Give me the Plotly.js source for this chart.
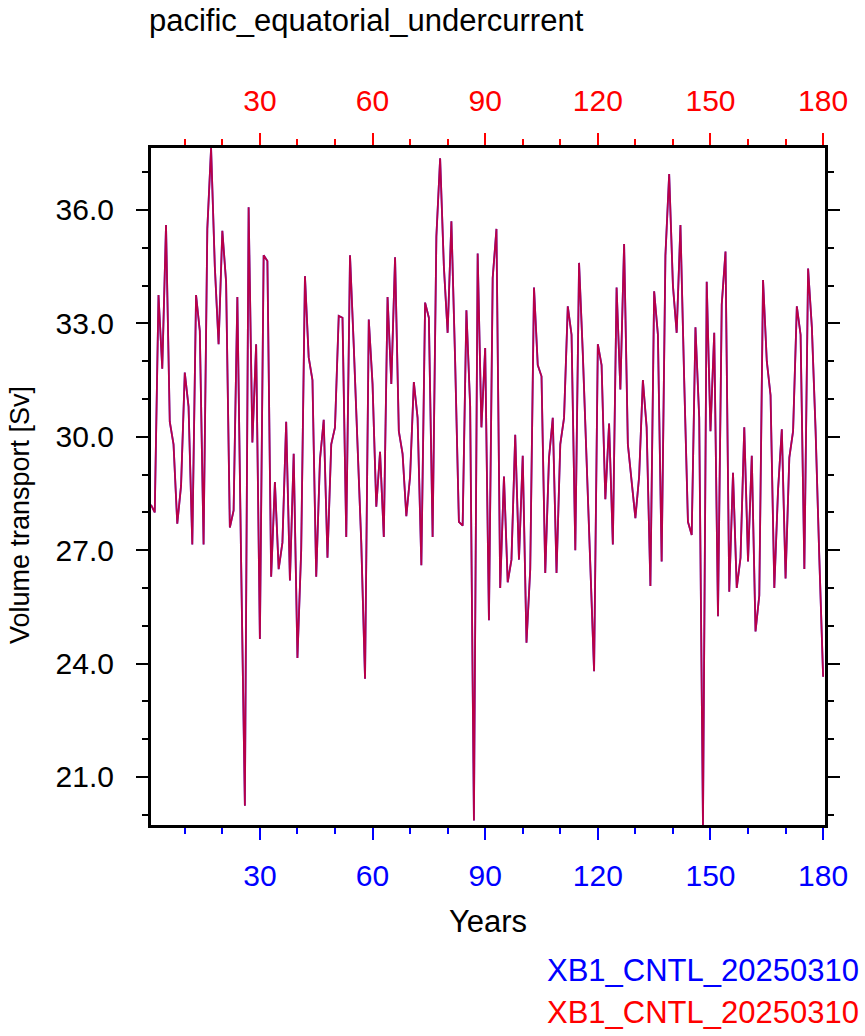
<!DOCTYPE html>
<html>
<head>
<meta charset="utf-8">
<script src="https://cdn.plot.ly/plotly-3.0.1.min.js"></script>
<style>
  html, body { margin: 0; padding: 0; background: #ffffff; }
  #chart { width: 865px; height: 1036px; }
</style>
</head>
<body>
<div id="chart"></div>
<script>
// ---- data ----
const chartTitle = "pacific_equatorial_undercurrent";
const xTitle = "Years";
const yTitle = "Volume transport [Sv]";
const seriesNames = ["XB1_CNTL_20250310", "XB1_CNTL_20250310"];
const seriesColors = ["#0000ff", "#ff0000"];

// transport values, years 1..180 (blue run)
const transportBlue = [
  28.2, 28.0, 33.75, 31.8, 35.6, 30.4, 29.8, 27.7, 28.7, 31.7,
  30.8, 27.15, 33.75, 32.8, 27.15, 35.5, 37.64, 34.5, 32.45, 35.45,
  34.1, 27.6, 28.05, 33.7, 26.7, 20.24, 36.07, 29.85, 32.45, 24.65,
  34.8, 34.65, 26.3, 28.8, 26.5, 27.2, 30.4, 26.2, 29.55, 24.15,
  27.0, 34.25, 32.1, 31.5, 26.3, 29.4, 30.45, 26.8, 29.8, 30.25,
  33.2, 33.15, 27.35, 34.8, 32.4, 30.0, 27.2, 23.6, 33.1, 31.4,
  28.15, 29.6, 27.35, 33.7, 31.4, 34.75, 30.15, 29.55, 27.9, 28.95,
  31.45, 30.5, 26.6, 33.55, 33.15, 27.35, 35.3, 37.37, 34.5, 32.75,
  35.7, 32.0, 27.75, 27.65, 33.35, 30.8, 19.85, 34.85, 30.25, 32.35,
  25.15, 34.2, 35.5, 26.0, 28.95, 26.15, 26.75, 30.05, 26.75, 29.5,
  24.55, 26.5, 33.95, 31.9, 31.6, 26.4, 29.45, 30.5, 26.4, 29.8,
  30.5, 33.45, 32.7, 27.0, 34.6, 32.2, 29.45, 27.0, 23.8, 32.45,
  31.9, 28.35, 30.35, 27.15, 33.95, 31.25, 35.1, 29.8, 28.85, 27.85,
  28.95, 31.5, 30.25, 26.05, 33.85, 32.7, 26.7, 34.8, 36.95, 34.0,
  32.75, 35.6, 31.5, 27.75, 27.4, 32.9, 30.5, 19.73, 34.1, 30.15,
  32.75, 25.25, 33.5, 34.9, 25.9, 29.05, 26.0, 26.8, 30.25, 26.7,
  29.5, 24.85, 25.8, 34.15, 32.0, 31.1, 26.0, 28.6, 30.2, 26.25,
  29.45, 30.15, 33.45, 32.7, 26.5, 34.45, 32.9, 30.15, 26.75, 23.65
];
// red run (drawn on top; overlaps the blue run)
const transportRed = [
  28.2, 28.0, 33.75, 31.8, 35.6, 30.4, 29.8, 27.7, 28.7, 31.7,
  30.8, 27.15, 33.75, 32.8, 27.15, 35.5, 37.64, 34.5, 32.45, 35.45,
  34.1, 27.6, 28.05, 33.7, 26.7, 20.24, 36.07, 29.85, 32.45, 24.65,
  34.8, 34.65, 26.3, 28.8, 26.5, 27.2, 30.4, 26.2, 29.55, 24.15,
  27.0, 34.25, 32.1, 31.5, 26.3, 29.4, 30.45, 26.8, 29.8, 30.25,
  33.2, 33.15, 27.35, 34.8, 32.4, 30.0, 27.2, 23.6, 33.1, 31.4,
  28.15, 29.6, 27.35, 33.7, 31.4, 34.75, 30.15, 29.55, 27.9, 28.95,
  31.45, 30.5, 26.6, 33.55, 33.15, 27.35, 35.3, 37.37, 34.5, 32.75,
  35.7, 32.0, 27.75, 27.65, 33.35, 30.8, 19.85, 34.85, 30.25, 32.35,
  25.15, 34.2, 35.5, 26.0, 28.95, 26.15, 26.75, 30.05, 26.75, 29.5,
  24.55, 26.5, 33.95, 31.9, 31.6, 26.4, 29.45, 30.5, 26.4, 29.8,
  30.5, 33.45, 32.7, 27.0, 34.6, 32.2, 29.45, 27.0, 23.8, 32.45,
  31.9, 28.35, 30.35, 27.15, 33.95, 31.25, 35.1, 29.8, 28.85, 27.85,
  28.95, 31.5, 30.25, 26.05, 33.85, 32.7, 26.7, 34.8, 36.95, 34.0,
  32.75, 35.6, 31.5, 27.75, 27.4, 32.9, 30.5, 19.73, 34.1, 30.15,
  32.75, 25.25, 33.5, 34.9, 25.9, 29.05, 26.0, 26.8, 30.25, 26.7,
  29.5, 24.85, 25.8, 34.15, 32.0, 31.1, 26.0, 28.6, 30.2, 26.25,
  29.45, 30.15, 33.45, 32.7, 26.5, 34.45, 32.9, 30.15, 26.75, 23.65
];
const years = transportBlue.map((_, i) => i + 1);

const xTickVals = [30, 60, 90, 120, 150, 180];
const yTickVals = [21, 24, 27, 30, 33, 36];

// ---- layout geometry ----
const W = 865, H = 1036;
const plotL = 151, plotR = 825, plotT = 148, plotB = 825;
const FONT = "Liberation Sans, Arial, Helvetica, sans-serif";
const px2paperX = px => (px - plotL) / (plotR - plotL);
const px2paperY = py => (plotB - py) / (plotB - plotT);

const allVals = transportBlue.concat(transportRed);
const yMin = Math.min(...allVals), yMax = Math.max(...allVals);

const traces = [
  { x: years, y: transportBlue, type: "scatter", mode: "lines", name: seriesNames[0],
    line: { color: seriesColors[0], width: 1.8 }, xaxis: "x", yaxis: "y", showlegend: false },
  { x: years, y: transportRed, type: "scatter", mode: "lines", name: seriesNames[1],
    line: { color: seriesColors[1], width: 1.8 }, opacity: 0.72, xaxis: "x", yaxis: "y", showlegend: false },
  // invisible trace to activate top axis
  { x: [years[0]], y: [transportRed[0]], type: "scatter", mode: "lines", xaxis: "x2", yaxis: "y",
    line: { color: "rgba(0,0,0,0)" }, showlegend: false, hoverinfo: "skip" }
];

const layout = {
  width: W, height: H,
  paper_bgcolor: "#ffffff", plot_bgcolor: "#ffffff",
  margin: { l: plotL, r: W - plotR, t: plotT, b: H - plotB, pad: 0 },
  font: { family: FONT, size: 30, color: "#000000" },
  showlegend: false,
  title: { text: chartTitle, font: { family: FONT, size: 31, color: "#000000" },
           x: 149 / W, xanchor: "left", xref: "container",
           y: 1 - 20 / H, yanchor: "middle", yref: "container" },
  xaxis: {
    range: [1, 180.5], showgrid: false, zeroline: false,
    showline: true, linecolor: "#000000", linewidth: 3, mirror: false,
    tickmode: "array", tickvals: xTickVals, ticktext: xTickVals.map(String),
    ticks: "outside", ticklen: 12, tickwidth: 2, tickcolor: "#0000ff",
    tickfont: { family: FONT, size: 30, color: "#0000ff" },
    ticklabelstandoff: 10,
    minor: { tickmode: "linear", tick0: 0, dtick: 10, ticks: "outside", ticklen: 6, tickwidth: 2, tickcolor: "#0000ff" },
    title: { text: xTitle, font: { family: FONT, size: 31, color: "#000000" }, standoff: 20 },
    automargin: false
  },
  xaxis2: {
    overlaying: "x", side: "top", anchor: "y", matches: "x",
    range: [1, 180.5], showgrid: false, zeroline: false,
    showline: true, linecolor: "#000000", linewidth: 3,
    tickmode: "array", tickvals: xTickVals, ticktext: xTickVals.map(String),
    ticks: "outside", ticklen: 12, tickwidth: 2, tickcolor: "#ff0000",
    tickfont: { family: FONT, size: 30, color: "#ff0000" },
    ticklabelstandoff: 10,
    minor: { tickmode: "linear", tick0: 0, dtick: 10, ticks: "outside", ticklen: 6, tickwidth: 2, tickcolor: "#ff0000" },
    automargin: false
  },
  yaxis: {
    range: [yMin, yMax], showgrid: false, zeroline: false,
    showline: true, linecolor: "#000000", linewidth: 3, mirror: "ticks",
    tickmode: "array", tickvals: yTickVals, ticktext: yTickVals.map(v => v.toFixed(1)),
    ticks: "outside", ticklen: 12, tickwidth: 2, tickcolor: "#000000",
    tickfont: { family: FONT, size: 30, color: "#000000" },
    ticklabelstandoff: 16,
    minor: { tickmode: "linear", tick0: 0, dtick: 1, ticks: "outside", ticklen: 6, tickwidth: 2, tickcolor: "#000000" },
    automargin: false
  },
  annotations: [
    { text: yTitle, xref: "paper", yref: "paper", x: px2paperX(20), y: px2paperY(515),
      xanchor: "center", yanchor: "middle", textangle: -90, showarrow: false,
      font: { family: FONT, size: 27, color: "#000000" } },
    { text: seriesNames[0], xref: "paper", yref: "paper", x: px2paperX(861), y: px2paperY(970),
      xanchor: "right", yanchor: "middle", showarrow: false,
      font: { family: FONT, size: 31, color: seriesColors[0] } },
    { text: seriesNames[1], xref: "paper", yref: "paper", x: px2paperX(861), y: px2paperY(1012),
      xanchor: "right", yanchor: "middle", showarrow: false,
      font: { family: FONT, size: 31, color: seriesColors[1] } }
  ]
};

Plotly.newPlot("chart", traces, layout, { staticPlot: true, displayModeBar: false });
</script>
</body>
</html>
